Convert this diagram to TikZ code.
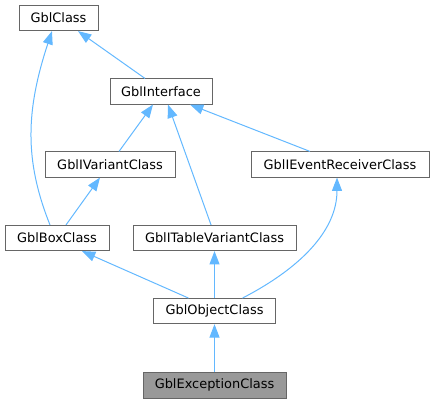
\documentclass[tikz,border=0pt]{standalone}
\usepackage{fontspec}
\setmainfont{DejaVu Sans}
\usetikzlibrary{arrows.meta, positioning}
\definecolor{edgeblue}{HTML}{63B8FF}
\tikzstyle{cls} = [rectangle, minimum height=19pt, inner sep=0pt, text centered, draw=black!60, line width=.6pt, fill=white, font=\fontsize{9.7}{11}\selectfont]
\tikzstyle{current} = [cls, fill=black!40]
\tikzstyle{inherit} = [edgeblue, line width=.75pt, -{Triangle[length=10pt, width=7.5pt]}]

\begin{document}
\begin{tikzpicture}[x=.75pt, y=-.75pt]
            \useasboundingbox (0,0) rectangle (434,403);
            \node (gblclass) [cls, minimum width=59.25pt] at (58.5,18) {GblClass};
            \node (iface) [cls, minimum width=76.5pt] at (161,91.5) {GblInterface};
            \node (variant) [cls, minimum width=97.5pt] at (110,164.5) {GblIVariantClass};
            \node (receiver) [cls, minimum width=133.5pt] at (340,164.5) {GblIEventReceiverClass};
            \node (box) [cls, minimum width=78pt] at (57,238) {GblBoxClass};
            \node (tablevar) [cls, minimum width=122.25pt] at (214.5,238) {GblITableVariantClass};
            \node (object) [cls, minimum width=91.5pt, below=35.25pt of tablevar] {GblObjectClass};
            \node (exception) [current, minimum width=107.25pt, below=36pt of object] {GblExceptionClass};

            \draw [inherit] ([xshift=-12pt]iface.north) -- ([xshift=14.6pt]gblclass.south);
            \draw [inherit] ([xshift=-5.25pt]box.north) .. controls +(-26,-65) and +(-26,79) .. ([xshift=-4.9pt]gblclass.south);
            \draw [inherit] ([xshift=6.75pt]variant.north) -- ([xshift=-6pt]iface.south);
            \draw [inherit] ([xshift=-2.6pt]tablevar.north) -- ([xshift=5.25pt]iface.south);
            \draw [inherit] ([xshift=-22.5pt]receiver.north) -- ([xshift=21.75pt]iface.south);
            \draw [inherit] ([xshift=6.75pt]box.north) -- ([xshift=-7.5pt]variant.south);
            \draw [inherit] ([xshift=-19.5pt]object.north) -- ([xshift=18.75pt]box.south);
            \draw [inherit] (object) -- (tablevar);
            \draw [inherit] ([xshift=21pt]object.north) .. controls +(58,-30) and +(0,53) .. ([xshift=-2.25pt]receiver.south);
            \draw [inherit] (exception) -- (object);
        \end{tikzpicture}
\end{document}
